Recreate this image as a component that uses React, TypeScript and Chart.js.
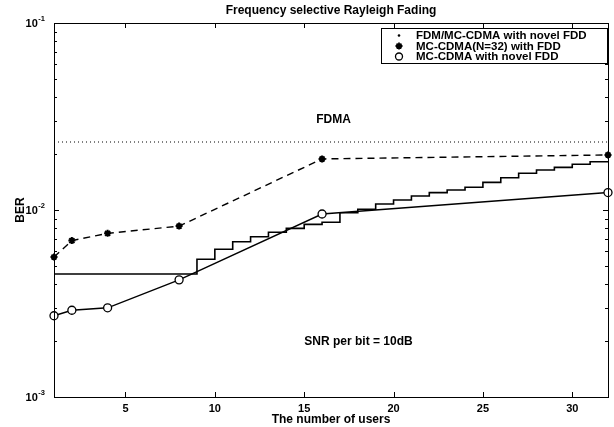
import { useEffect, useRef } from "react";
import { Chart, registerables } from "chart.js";

Chart.register(...registerables);

// ---- data ----
const titleText = "Frequency selective Rayleigh Fading";
const xTitle = "The number of users";
const yTitle = "BER";
const xTicks = [5, 10, 15, 20, 25, 30];
const yTicks = [0.001, 0.01, 0.1];
const yTickBase = "10";
const yTickExps = ["-3", "-2", "-1"];

const legendLabels = [
  "FDM/MC-CDMA with novel FDD",
  "MC-CDMA(N=32) with FDD",
  "MC-CDMA with novel FDD",
];

const markUsers = [1, 2, 4, 8, 16, 32];
const berMc32 = [0.0056, 0.00686, 0.0075, 0.0082, 0.01875, 0.0197];
const berMcNovel = [0.00272, 0.00291, 0.003, 0.00423, 0.00952, 0.0124];

const stairUsers = [
  1, 2, 3, 4, 5, 6, 7, 8, 9, 10, 11, 12, 13, 14, 15, 16,
  17, 18, 19, 20, 21, 22, 23, 24, 25, 26, 27, 28, 29, 30, 31, 32,
];
const berFdmNovel = [
  0.00455, 0.00455, 0.00455, 0.00455, 0.00455, 0.00455, 0.00455, 0.00455,
  0.00545, 0.00617, 0.00677, 0.0072, 0.0076, 0.00798, 0.00838, 0.0086,
  0.00967, 0.01009, 0.01077, 0.01131, 0.01189, 0.01238, 0.0128, 0.01323,
  0.01406, 0.01488, 0.01571, 0.01637, 0.01691, 0.01755, 0.01812, 0.01812,
];

const fdmaUsers = [1, 32];
const fdmaBer = [0.0231, 0.0231];

const fdmaLabel = "FDMA";
const snrLabel = "SNR per bit = 10dB";

const FONT = "'Liberation Sans', Arial, sans-serif";

const decorPlugin = {
  id: "decor",
  afterDraw(chart: any) {
    const { ctx, chartArea: a, scales } = chart;
    const xs = scales.x;
    const ys = scales.y;
    ctx.save();
    ctx.strokeStyle = "#000";
    ctx.lineWidth = 1;
    ctx.strokeRect(Math.round(a.left) + 0.5, Math.round(a.top) + 0.5, Math.round(a.right - a.left), Math.round(a.bottom - a.top));
    ctx.beginPath();
    for (const v of xTicks) {
      const px = Math.round(xs.getPixelForValue(v)) + 0.5;
      ctx.moveTo(px, a.bottom);
      ctx.lineTo(px, a.bottom - 5);
      ctx.moveTo(px, a.top);
      ctx.lineTo(px, a.top + 5);
    }
    for (const d of [0.001, 0.01]) {
      for (let m = 1; m <= 9; m++) {
        const py = Math.round(ys.getPixelForValue(d * m)) + 0.5;
        const len = m === 1 ? 5 : 3;
        ctx.moveTo(a.left, py);
        ctx.lineTo(a.left + len, py);
        ctx.moveTo(a.right, py);
        ctx.lineTo(a.right - len, py);
      }
    }
    ctx.stroke();

    ctx.fillStyle = "#000";
    // y tick labels: 10 with raised exponent
    yTicks.forEach((v, i) => {
      const py = ys.getPixelForValue(v);
      ctx.textBaseline = "middle";
      ctx.textAlign = "right";
      ctx.font = `bold 7.5px ${FONT}`;
      const ew = ctx.measureText(yTickExps[i]).width;
      const rightEdge = 45;
      ctx.fillText(yTickExps[i], rightEdge, py - 4);
      ctx.font = `bold 11px ${FONT}`;
      ctx.fillText(yTickBase, rightEdge - ew - 0.5, py + 1);
    });

    ctx.textBaseline = "middle";
    ctx.textAlign = "center";
    ctx.font = `bold 12px ${FONT}`;
    ctx.fillText(titleText, (a.left + a.right) / 2, 11);
    ctx.fillText(fdmaLabel, xs.getPixelForValue(16.64), ys.getPixelForValue(0.0303));
    ctx.fillText(snrLabel, xs.getPixelForValue(18.04), ys.getPixelForValue(0.00197));

    // legend box
    const bx = 381, by = 28, bw = a.right - 1 - bx, bh = 35;
    ctx.fillStyle = "#fff";
    ctx.fillRect(bx, by, bw, bh);
    ctx.strokeRect(bx + 0.5, by + 0.5, bw, bh);
    ctx.fillStyle = "#000";
    ctx.textAlign = "left";
    ctx.font = `bold 11.5px ${FONT}`;
    const rows = [35.5, 46, 56.5];
    legendLabels.forEach((t, i) => ctx.fillText(t, 416, rows[i] + 0.5));
    const mx = 399;
    // dot
    ctx.beginPath();
    ctx.arc(mx, rows[0], 1.3, 0, Math.PI * 2);
    ctx.fill();
    // star (asterisk)
    ctx.lineWidth = 1.8;
    ctx.beginPath();
    const r = 3.5;
    for (let k = 0; k < 4; k++) {
      const ang = (k * Math.PI) / 4;
      ctx.moveTo(mx - r * Math.cos(ang), rows[1] - r * Math.sin(ang));
      ctx.lineTo(mx + r * Math.cos(ang), rows[1] + r * Math.sin(ang));
    }
    ctx.stroke();
    // circle
    ctx.lineWidth = 1.3;
    ctx.beginPath();
    ctx.arc(mx, rows[2], 3.5, 0, Math.PI * 2);
    ctx.stroke();
    ctx.restore();
  },
};

export default function App() {
  const ref = useRef<HTMLCanvasElement>(null);
  useEffect(() => {
    const tickFont = { family: FONT, size: 11, weight: "bold" as const };
    const titleFont = { family: FONT, size: 12, weight: "bold" as const };
    const chart = new Chart(ref.current!, {
      type: "line",
      data: {
        datasets: [
          {
            label: legendLabels[2],
            data: markUsers.map((x, i) => ({ x, y: berMcNovel[i] })),
            borderColor: "#000",
            borderWidth: 1.4,
            pointStyle: "circle",
            pointRadius: 4,
            pointBorderWidth: 1.3,
            pointBackgroundColor: "#fff",
            pointBorderColor: "#000",
            clip: false as any,
          },
          {
            label: legendLabels[1],
            data: markUsers.map((x, i) => ({ x, y: berMc32[i] })),
            borderColor: "#000",
            borderWidth: 1.4,
            borderDash: [7, 5],
            pointStyle: "star",
            pointRadius: 3.5,
            pointBorderWidth: 2,
            pointBorderColor: "#000",
            clip: false as any,
          },
          {
            label: legendLabels[0],
            data: stairUsers.map((x, i) => ({ x, y: berFdmNovel[i] })),
            borderColor: "#000",
            borderWidth: 1.6,
            stepped: "before",
            pointRadius: 0,
          },
          {
            label: fdmaLabel,
            data: fdmaUsers.map((x, i) => ({ x, y: fdmaBer[i] })),
            borderColor: "#000",
            borderWidth: 1,
            borderDash: [1, 3],
            pointRadius: 0,
          },
        ],
      },
      options: {
        responsive: false,
        animation: false,
        events: [],
        layout: { padding: { top: 23, right: 4, left: 0, bottom: 0 } },
        plugins: {
          legend: { display: false },
          tooltip: { enabled: false },
          title: { display: false },
        },
        scales: {
          x: {
            type: "linear",
            min: 1,
            max: 32,
            afterBuildTicks: (s: any) => {
              s.ticks = xTicks.map((v) => ({ value: v }));
            },
            afterFit: (s: any) => {
              s.height = 30;
            },
            grid: { display: false, drawTicks: false },
            border: { display: false },
            ticks: { padding: 5, font: tickFont, color: "#000", maxRotation: 0, autoSkip: false },
            title: { display: true, text: xTitle, font: titleFont, color: "#000", padding: { top: 0, bottom: 0 } },
          },
          y: {
            type: "logarithmic",
            min: 0.001,
            max: 0.1,
            afterBuildTicks: (s: any) => {
              s.ticks = yTicks.map((v) => ({ value: v }));
            },
            afterFit: (s: any) => {
              s.width = 54;
            },
            grid: { display: false, drawTicks: false },
            border: { display: false },
            ticks: { display: false },
            title: { display: true, text: yTitle, font: titleFont, color: "#000", padding: { top: 13, bottom: 0 } },
          },
        },
      },
      plugins: [decorPlugin],
    });
    return () => chart.destroy();
  }, []);
  return (
    <div style={{ position: "fixed", left: 0, top: 0, width: 614, height: 427, background: "#fff" }}>
      <canvas ref={ref} width={614} height={427} style={{ width: 614, height: 427, display: "block" }} />
    </div>
  );
}
